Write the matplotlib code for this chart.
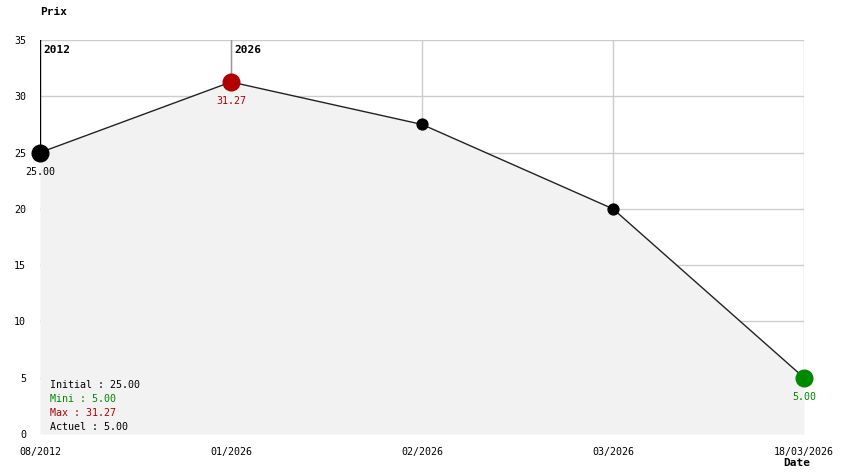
import matplotlib
matplotlib.use("Agg")
import matplotlib.pyplot as plt

dates = ["08/2012", "01/2026", "02/2026", "03/2026", "18/03/2026"]
prices = [25.00, 31.27, 27.5, 20.0, 5.00]
yticks = [0, 5, 10, 15, 20, 25, 30, 35]
year_marks = [(0, "2012"), (1, "2026")]
legend_lines = [("Initial : 25.00", "black"), ("Mini : 5.00", "#008800"),
                ("Max : 31.27", "#B00000"), ("Actuel : 5.00", "black")]

W, H = 844, 474
fig = plt.figure(figsize=(W / 100, H / 100), dpi=100)
ax = fig.add_axes([40 / W, (H - 434) / H, 764 / W, 394 / H])
mono = "DejaVu Sans Mono"
fs = 7.2

x = list(range(len(prices)))
ax.set_xlim(0, len(prices) - 1)
ax.set_ylim(0, 35)
for s in ax.spines.values():
    s.set_visible(False)

grid_c = "#cccccc"
for yv in yticks[1:]:
    ax.axhline(yv, color=grid_c, lw=1, zorder=1)
for xv in x[1:]:
    ax.axvline(xv, color=grid_c, lw=1, zorder=1)

ax.fill_between(x, prices, 0, color="#f2f2f2", zorder=2, lw=0)
ax.plot(x, prices, color="#222222", lw=1.0, zorder=3)

# year marker lines
ax.plot([0, 0], [35, prices[0]], color="black", lw=1, zorder=3)
ax.plot([1, 1], [35, prices[1]], color="#999999", lw=1, zorder=3)
for xi, lab in year_marks:
    ax.annotate(lab, (xi, 35), xytext=(3, -5), textcoords="offset pixels",
                ha="left", va="top", fontsize=8, fontweight="bold", family=mono)

imax = prices.index(max(prices))
imin = prices.index(min(prices))
for i, p in enumerate(prices):
    if i == imax:
        c, ms = "#B00000", 12
    elif i == imin:
        c, ms = "#008800", 12
    elif i == 0:
        c, ms = "black", 12
    else:
        c, ms = "black", 7.8
    ax.plot([i], [p], "o", color=c, ms=ms, zorder=5, clip_on=False)
    if i in (0, imax, imin):
        ax.annotate(f"{p:.2f}", (i, p), xytext=(0, -19), textcoords="offset pixels",
                    ha="center", va="center", fontsize=fs, family=mono, color=c)

ax.set_yticks(yticks)
ax.set_yticklabels([str(v) for v in yticks], family=mono, fontsize=fs)
ax.set_xticks(x)
ax.set_xticklabels(dates, family=mono, fontsize=fs)
ax.tick_params(axis="y", length=0, pad=10)
ax.tick_params(axis="x", length=0, pad=9)

fig.text(40 / W, 1 - 12 / H, "Prix", ha="left", va="center", fontsize=8,
         fontweight="bold", family=mono)
fig.text(797 / W, 1 - 463 / H, "Date", ha="center", va="center", fontsize=8,
         fontweight="bold", family=mono)

for k, (t, c) in enumerate(legend_lines):
    fig.text(50 / W, 1 - (385 + 14 * k) / H, t, ha="left", va="center",
             fontsize=fs, family=mono, color=c)

fig.savefig("out.png", dpi=100)
